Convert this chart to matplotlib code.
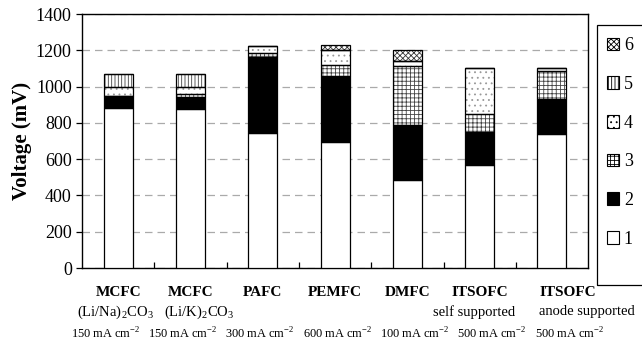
import numpy as np
import matplotlib
matplotlib.use('Agg')
import matplotlib.pyplot as plt
from matplotlib.patches import Patch, Rectangle
from matplotlib.transforms import blended_transform_factory

plt.rcParams['font.family'] = ['Liberation Serif', 'DejaVu Serif']
plt.rcParams['mathtext.fontset'] = 'custom'
plt.rcParams['mathtext.rm'] = 'Liberation Serif'
plt.rcParams['hatch.linewidth'] = 0.6

# cell types
names = ['MCFC', 'MCFC', 'PAFC', 'PEMFC', 'DMFC', 'ITSOFC', 'ITSOFC']
subnames = [r'(Li/Na)$_2$CO$_3$', r'(Li/K)$_2$CO$_3$', '', '', '', 'self supported', 'anode supported']
currents = [r'150 mA cm$^{-2}$', r'150 mA cm$^{-2}$', r'300 mA cm$^{-2}$', r'600 mA cm$^{-2}$',
            r'100 mA cm$^{-2}$', r'500 mA cm$^{-2}$', r'500 mA cm$^{-2}$']

# voltage contributions (mV), stacked 1 -> 6
s1 = [882, 876, 746, 697, 487, 568, 737]
s2 = [68, 64, 415, 363, 303, 184, 193]
s3 = [0, 19, 26, 61, 323, 97, 156]
s4 = [48, 37, 37, 81, 28, 251, 14]
s5 = [74, 74, 0, 0, 0, 0, 0]
s6 = [0, 0, 0, 29, 61, 0, 0]
series = [s1, s2, s3, s4, s5, s6]
labels = ['1', '2', '3', '4', '5', '6']

styles = [
    dict(fc='white', hatch=None, hc='black'),
    dict(fc='black', hatch=None, hc='black'),
    dict(fc='white', hatch='++++', hc='#444444'),
    dict(fc='white', hatch='...', hc='#999999'),
    dict(fc='white', hatch='|||||', hc='#444444'),
    dict(fc='white', hatch='xxxxxx', hc='#333333'),
]

fig = plt.figure(figsize=(6.42, 3.46), dpi=100)
ax = fig.add_axes([0.128, 0.2254, 0.788, 0.734])

x = np.arange(len(names))
w = 0.40
bottom = np.zeros(len(names))
for vals, st in zip(series, styles):
    vals = np.array(vals, dtype=float)
    if st['hatch']:
        ax.bar(x, vals, w, bottom=bottom, color=st['fc'], edgecolor=st['hc'],
               hatch=st['hatch'], linewidth=0, zorder=2)
        ax.bar(x, vals, w, bottom=bottom, fill=False, edgecolor='black',
               linewidth=0.9, zorder=3)
    else:
        ax.bar(x, vals, w, bottom=bottom, color=st['fc'], edgecolor='black',
               linewidth=0.9, zorder=3)
    bottom += vals

ax.set_xlim(-0.5, len(names) - 0.5)
ax.set_ylim(0, 1400)
ax.set_yticks(np.arange(0, 1401, 200))
ax.tick_params(axis='y', labelsize=13, length=4, width=0.9, direction='out')
ax.set_xticks(x[:-1] + 0.5)
ax.set_xticklabels([])
ax.tick_params(axis='x', direction='in', length=4, width=0.9)
for sp in ax.spines.values():
    sp.set_linewidth(1.0)
ax.yaxis.grid(True, linestyle=(0, (6, 4)), color='#aaaaaa', linewidth=0.9, zorder=0)
ax.set_axisbelow(True)
ax.set_ylabel('Voltage (mV)', fontsize=15, fontweight='bold', labelpad=3)

# category labels, three lines under each bar
tr = blended_transform_factory(ax.transData, fig.transFigure)
name_dx = [0, 0, 0, 0, 0, 0, 0.22]
sub_dx = [-0.04, 0.12, 0, 0, 0, -0.08, 0.48]
for i in range(len(names)):
    ax.text(x[i] + name_dx[i], 1 - 292 / 346, names[i], transform=tr, ha='center',
            va='center', fontsize=11, fontweight='bold')
    if subnames[i]:
        ax.text(x[i] + sub_dx[i], 1 - 312 / 346, subnames[i], transform=tr, ha='center',
                va='center', fontsize=10.5)
    # the current-density row is spread slightly wider than the bars
    ax.text(-0.18 + 1.07 * x[i], 1 - 334 / 346, currents[i], transform=tr, ha='center',
            va='center', fontsize=8.9)

handles = []
for st, lab in zip(styles, labels):
    handles.append(Patch(facecolor=st['fc'], edgecolor='black', hatch=st['hatch'],
                         linewidth=0.8, label=lab))
leg = fig.legend(handles[::-1], labels[::-1], loc='upper left',
                 bbox_to_anchor=(0.945, 0.892), frameon=False,
                 fontsize=13, labelspacing=1.2, handlelength=0.7, handleheight=0.7,
                 handletextpad=0.25, borderpad=0, borderaxespad=0)
fig.patches.append(Rectangle((597 / 642, 1 - 285 / 346), 0.2, 260 / 346,
                             transform=fig.transFigure, fill=False,
                             edgecolor='black', linewidth=0.9))

fig.savefig('out.png', dpi=100)
